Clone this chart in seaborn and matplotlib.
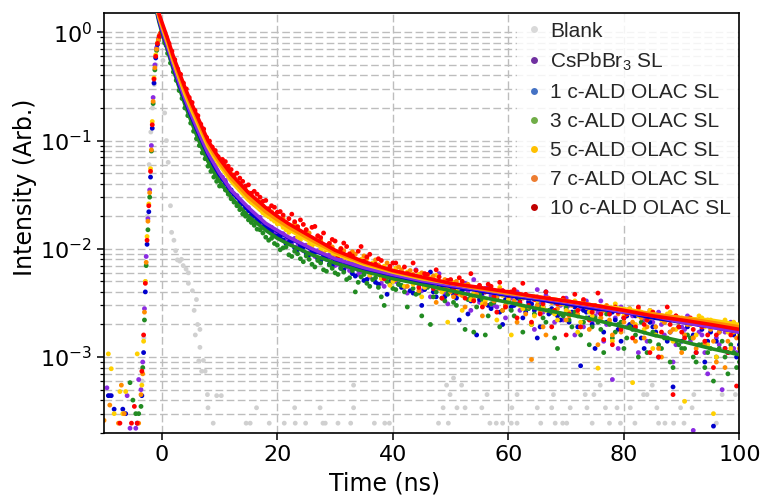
import numpy as np
import pandas as pd
import matplotlib
matplotlib.use("Agg")
import matplotlib.pyplot as plt
import seaborn as sns
from matplotlib.lines import Line2D
from matplotlib.ticker import LogLocator, NullFormatter, MultipleLocator

nan = np.nan

# ---------------- data ----------------
samples = ["Blank", "CsPbBr$_3$ SL", "1 c-ALD OLAC SL", "3 c-ALD OLAC SL",
           "5 c-ALD OLAC SL", "7 c-ALD OLAC SL", "10 c-ALD OLAC SL"]

# TCSPC time bins (ns) of the acquisition grids
time_a = np.round(np.concatenate([np.arange(-10, -3.9, 0.5), np.arange(-3.6, -0.2, 0.3),
                                  np.arange(0, 10.01, 0.5), np.arange(11, 100.1, 1.0),
                                  np.arange(10.5, 99.6, 1.0)]), 2)
time_b = np.round(np.concatenate([np.arange(-9.75, -4.2, 0.5), np.arange(-3.45, -0.1, 0.3),
                                  np.arange(0.25, 9.8, 0.5), np.arange(10.5, 99.6, 1.0),
                                  np.arange(11, 100.1, 1.0)]), 2)

blank_time = [-3.4, -3.1, -2.8, -2.5, -2.2, -1.9, -1.6, -1.3, -1.0, -0.7, -0.4, -0.1, 0.2, 0.5,
              0.8, 1.1, 1.5, 1.7, 2.1, 2.4, 2.7, 3.1, 3.4, 3.7, 4.2, 4.6, 4.6, 5.3, 5.6, 5.8,
              6.0, 6.2, 6.6, 6.6, 6.4, 7.2, 6.9, 7.5, 7.9, 9.5, 10.3, 8.0, 8.9,
              14.6, 15.3, 18.6, 21.2, 23.1, 24.9, 27.9, 28.3, 30.5, 32.7, 36.8, 38.6, 39.4,
              47.9, 49.6, 56.8, 57.9, 59.0, 60.5, 61.5, 65.6, 68.1, 69.4, 70.1, 74.5, 77.5,
              79.4, 81.9, 86.0, 87.1, 88.6, 90.4, 96.0,
              16.4, 23.0, 27.4, 33.2, 48.7, 51.1, 52.5, 55.4, 60.6, 65.0, 67.5, 70.7, 73.6,
              76.8, 78.8, 81.1, 85.7, 89.8, 91.8,
              49.9, 56.3, 61.5, 67.8, 73.3, 74.8, 83.4, 84.0, 92.1, 97.0, 99.3,
              33.2, 49.3, 51.9, 75.9, 84.9, 50.5]
blank_int = [6e-4, 1.5e-3, 5e-3, 0.02, 0.06, 0.12, 0.2, 0.33, 0.5, 0.7, 0.92, 1.0, 0.55, 0.18,
             0.1, 0.063, 0.025, 0.0142, 0.012, 0.0096, 0.0079, 0.0077, 0.008, 0.007, 0.0065, 0.006,
             0.0048, 0.0041, 0.0027, 0.0016, 0.0034, 0.0020, 0.0018, 0.00123, 9.2e-4, 9.3e-4,
             7.4e-4, 7.4e-4, 4.5e-4, 4.4e-4, 4.4e-4, 3.4e-4, 2.45e-4] + \
            [2.45e-4] * 33 + [3.4e-4] * 19 + [4.5e-4] * 11 + [5.5e-4] * 5 + [6.4e-4]

cspbbr3_int = [nan, 5.2e-4, 4.4e-4, nan, nan, nan, nan, nan, 4.4e-4, 2.2e-4, nan, 2.2e-4, 6.2e-4,
               5e-4, 9e-4, 2.8e-3, 8.5e-3, 0.019, 0.035, 0.09, 0.25, 0.5, 0.72, 0.87, 0.97,
               0.99, 0.84, 0.70, 0.58, 0.48, 0.40, 0.33, 0.28, 0.235, 0.20, 0.172, 0.148, 0.128,
               0.112, 0.097, 0.085, 0.074, 0.066, 0.059, 0.053, 0.048,
               0.043, 0.034, 0.031, 0.026, 0.024, 0.020, 0.0195, 0.0165, 0.0158, 0.0140,
               0.0138, 0.0118, 0.0125, 0.0102, 0.0108, 0.0090, 0.0096, 0.0082, 0.0088, 0.0070,
               0.0079, 0.0068, 0.0075, 0.0058, 0.0070, 0.0055, 0.0066, 0.0048, 0.0062, 0.0052,
               0.0060, 0.0044, 0.0056, 0.0064, 0.0041, 0.0052, 0.0047, 0.0059, 0.0038, 0.0049,
               0.0036, 0.0046, 0.0040, 0.0052, 0.0032, 0.0043, 0.0037, 0.0029, 0.0041, 0.0034,
               0.0039, 0.0027, 0.0036, 0.0031, 0.0042, 0.0026, 0.0033, 0.0021, 0.0030, 0.0035,
               0.0025, 0.0031, 0.0019, 0.0028, 0.0024, 0.0033, 0.0020, 0.00062, 0.0012, 0.0023,
               0.0028, 0.0018, 0.0024, 0.0014, 0.0021, 0.0026, 0.0016, 0.0022, 0.0013, 0.0019,
               0.0024, 0.00021, 0.0017, 0.0011, 0.0020, 0.0015, 0.0005, 0.0018, 0.0012, 0.0016,
               0.046, 0.037, 0.032, 0.028, 0.024, 0.021, 0.0185, 0.0168, 0.0152, 0.0138,
               0.0131, 0.0122, 0.0110, 0.0106, 0.0096, 0.0092, 0.0085, 0.0079, 0.0080, 0.0074,
               0.0072, 0.0078, 0.0063, 0.0066, 0.0061, 0.0052, 0.0064, 0.0058, 0.0045, 0.0057,
               0.0050, 0.0058, 0.0039, 0.0053, 0.0047, 0.0055, 0.0036, 0.0049, 0.0043, 0.0031,
               0.0045, 0.0040, 0.0048, 0.0027, 0.0042, 0.0036, 0.0044, 0.0030, 0.0038, 0.0023,
               0.0035, 0.0040, 0.0029, 0.0033, 0.0018, 0.0032, 0.0037, 0.0026, 0.0031, 0.0022,
               0.0030, 0.0016, 0.0028, 0.0033, 0.0021, 0.0026, 0.0014, 0.0027, 0.0023, 0.0029,
               0.0019, 0.0024, 0.0011, 0.0022, 0.0027, 0.0017, 0.0020, 0.0024, 0.0009, 0.0021,
               0.0018, 0.0014, 0.0022, 0.0016, 0.0007, 0.0019, 0.0013, 0.0017, 0.0021, 0.0011]

ald1_int = [nan, 4.4e-4, 4.4e-4, 3.3e-4, nan, nan, 3.3e-4, 3.0e-4, nan, nan, nan, 2.45e-4,
            4.4e-4, 1.1e-3, 4e-3, 0.011, 0.022, 0.046, 0.13, 0.34, 0.58, 0.77, 0.9, 0.98,
            0.94, 0.76, 0.63, 0.52, 0.43, 0.36, 0.30, 0.25, 0.21, 0.18, 0.155, 0.135, 0.116,
            0.101, 0.088, 0.077, 0.068, 0.060, 0.054, 0.049,
            0.044, 0.037, 0.032, 0.027, 0.024, 0.0205, 0.0188, 0.0160, 0.0152, 0.0132,
            0.0130, 0.0112, 0.0118, 0.0098, 0.0104, 0.0088, 0.0093, 0.0077, 0.0084, 0.0070,
            0.0076, 0.0064, 0.0071, 0.0056, 0.0066, 0.0052, 0.0062, 0.0047, 0.0058, 0.0050,
            0.0056, 0.0044, 0.0052, 0.0039, 0.0050, 0.0042, 0.0061, 0.0036, 0.0046, 0.0041,
            0.0038, 0.0022, 0.0043, 0.0033, 0.0016, 0.0039, 0.0030, 0.0036, 0.0026, 0.0034,
            0.0029, 0.0035, 0.0023, 0.0032, 0.0027, 0.0019, 0.0040, 0.0028, 0.0024, 0.0031,
            0.0021, 0.0029, 0.00083, 0.0026, 0.0020, 0.0028, 0.0017, 0.0025, 0.0022, 0.0014,
            0.0024, 0.0019, 0.0026, 0.0012, 0.0021, 0.0017, 0.0023, 0.0014, 0.00053, 0.0019,
            0.0016, 0.0022, 0.0011, 0.0018, 0.0014, 0.00023, 0.0017, 0.0012, 0.0019, 0.0010,
            0.041, 0.035, 0.030, 0.026, 0.0225, 0.0200, 0.0178, 0.0160, 0.0143, 0.0131,
            0.0121, 0.0115, 0.0102, 0.0107, 0.0090, 0.0096, 0.0081, 0.0086, 0.0072, 0.0077,
            0.0066, 0.0070, 0.0059, 0.0064, 0.0051, 0.0060, 0.0049, 0.0055, 0.0038, 0.0052,
            0.0047, 0.0053, 0.0041, 0.0049, 0.0030, 0.0045, 0.0040, 0.0047, 0.0036, 0.0043,
            0.0035, 0.0041, 0.0025, 0.0038, 0.0034, 0.0040, 0.0028, 0.0035, 0.0020, 0.0033,
            0.0030, 0.0034, 0.0026, 0.0031, 0.0015, 0.0029, 0.0025, 0.0032, 0.0022, 0.0028,
            0.0026, 0.0019, 0.0027, 0.0023, 0.0012, 0.0025, 0.0021, 0.0026, 0.0018, 0.0023,
            0.0020, 0.0024, 0.0015, 0.0022, 0.0019, 0.0010, 0.0021, 0.0017, 0.0022, 0.0014,
            0.0019, 0.0016, 0.0020, 0.0009, 0.0017, 0.0014, 0.0019, 0.0011, 0.0016, 0.0013]

ald3_int = [nan, nan, nan, nan, nan, nan, nan, nan, nan, 5.8e-4, 4e-4, 3e-4, 3e-4,
            3.5e-4, 8e-4, 2.2e-3, 7e-3, 0.015, 0.03, 0.08, 0.22, 0.45, 0.68, 0.84, 0.95,
            0.98, 0.80, 0.64, 0.52, 0.43, 0.36, 0.29, 0.245, 0.20, 0.17, 0.145, 0.122, 0.104,
            0.090, 0.077, 0.068, 0.058, 0.052, 0.046, 0.042, 0.038,
            0.035, 0.029, 0.025, 0.021, 0.0185, 0.0165, 0.0150, 0.0128, 0.0125, 0.0108,
            0.0102, 0.0088, 0.0095, 0.0081, 0.0086, 0.0072, 0.0078, 0.0064, 0.0071, 0.0060,
            0.0066, 0.0052, 0.0063, 0.0049, 0.0058, 0.0045, 0.0054, 0.0036, 0.0050, 0.0043,
            0.0047, 0.0040, 0.0051, 0.0038, 0.0024, 0.0044, 0.0036, 0.0048, 0.0033, 0.0041,
            0.0030, 0.0045, 0.0034, 0.0017, 0.0038, 0.0016, 0.0031, 0.0040, 0.0027, 0.0033,
            0.0024, 0.0035, 0.0028, 0.0020, 0.0030, 0.0023, 0.0027, 0.0015, 0.0025, 0.0029,
            0.0019, 0.0024, 0.0021, 0.0013, 0.0023, 0.0018, 0.0025, 0.0015, 0.0020, 0.0012,
            0.0019, 0.0016, 0.0021, 0.0011, 0.0017, 0.0013, 0.0015, 0.0009, 0.0014, 0.0012,
            0.0016, 0.0010, 0.0013, 0.0008, 0.0012, 0.0010, 0.0014, 0.0007, 0.0011, 0.0009,
            0.038, 0.032, 0.027, 0.023, 0.020, 0.0175, 0.0152, 0.0140, 0.0120, 0.0112,
            0.0098, 0.0104, 0.0085, 0.0090, 0.0076, 0.0080, 0.0068, 0.0074, 0.0062, 0.0066,
            0.0058, 0.0061, 0.0054, 0.0040, 0.0055, 0.0048, 0.0052, 0.0044, 0.0030, 0.0047,
            0.0042, 0.0046, 0.0029, 0.0043, 0.0039, 0.0045, 0.0020, 0.0040, 0.0035, 0.0038,
            0.0032, 0.0039, 0.0018, 0.0036, 0.0029, 0.0034, 0.0024, 0.0032, 0.0019, 0.0030,
            0.0027, 0.0031, 0.0017, 0.0028, 0.0025, 0.0029, 0.0021, 0.0026, 0.0012, 0.0024,
            0.0022, 0.0026, 0.0016, 0.0023, 0.0019, 0.0021, 0.0011, 0.0020, 0.0017, 0.0021,
            0.0015, 0.0018, 0.0010, 0.0017, 0.0014, 0.0016, 0.0012, 0.0015, 0.0008, 0.0013,
            0.0012, 0.0015, 0.0009, 0.0013, 0.0011, 0.0006, 0.0012, 0.0010, 0.0013, 0.0008]

ald5_int = [nan, 1.07e-3, 7.8e-4, 3e-4, nan, 4.8e-4, 3e-4, 4.8e-4, nan, nan, nan, 1.07e-3,
            5.5e-4, 1.4e-3, 5e-3, 0.013, 0.026, 0.055, 0.15, 0.38, 0.62, 0.8, 0.93, 1.0,
            0.96, 0.85, 0.72, 0.60, 0.50, 0.42, 0.35, 0.30, 0.255, 0.215, 0.19, 0.165, 0.143,
            0.124, 0.108, 0.096, 0.085, 0.076, 0.068, 0.061,
            0.056, 0.048, 0.041, 0.035, 0.031, 0.027, 0.025, 0.0215, 0.0198, 0.0180,
            0.0172, 0.0150, 0.0158, 0.0128, 0.0138, 0.0110, 0.0120, 0.0098, 0.0105, 0.0085,
            0.0093, 0.0077, 0.0088, 0.0068, 0.0080, 0.0064, 0.0074, 0.0058, 0.0069, 0.0046,
            0.0066, 0.0052, 0.0061, 0.0047, 0.0058, 0.0044, 0.0054, 0.0057, 0.0040, 0.0021,
            0.0049, 0.0038, 0.0046, 0.0034, 0.0044, 0.0031, 0.0041, 0.0036, 0.0044, 0.0029,
            0.0016, 0.0037, 0.0028, 0.0035, 0.0024, 0.0034, 0.0027, 0.0032, 0.0022, 0.0031,
            0.0026, 0.0033, 0.0021, 0.0029, 0.0024, 0.00079, 0.0027, 0.0021, 0.0031, 0.0019,
            0.0026, 0.00058, 0.0024, 0.0018, 0.0027, 0.0016, 0.0022, 0.0025, 0.0014, 0.0021,
            0.00039, 0.0020, 0.0016, 0.0023, 0.0013, 0.0003, 0.0019, 0.0022, 0.0012, 0.0018,
            0.052, 0.044, 0.038, 0.033, 0.029, 0.026, 0.0232, 0.0205, 0.0188, 0.0170,
            0.0158, 0.0142, 0.0148, 0.0121, 0.0128, 0.0105, 0.0114, 0.0092, 0.0099, 0.0083,
            0.0088, 0.0073, 0.0082, 0.0065, 0.0075, 0.0057, 0.0070, 0.0053, 0.0064, 0.0050,
            0.0060, 0.0045, 0.0056, 0.0051, 0.0036, 0.0053, 0.0047, 0.0050, 0.0042, 0.0046,
            0.0041, 0.0027, 0.0044, 0.0039, 0.0042, 0.0033, 0.0040, 0.0022, 0.0037, 0.0034,
            0.0038, 0.0030, 0.0036, 0.0020, 0.0033, 0.0029, 0.0034, 0.0025, 0.0031, 0.0027,
            0.0032, 0.0017, 0.0030, 0.0026, 0.0029, 0.0023, 0.0028, 0.0014, 0.0027, 0.0024,
            0.0028, 0.0020, 0.0026, 0.0022, 0.0012, 0.0024, 0.0021, 0.0026, 0.0018, 0.0023,
            0.0021, 0.0015, 0.0024, 0.0019, 0.0022, 0.0010, 0.0020, 0.0017, 0.0021, 0.0016]

ald7_int = [2.6e-4, nan, 3.6e-4, nan, nan, 2.45e-4, 5.5e-4, 3e-4, nan, nan, nan, nan, 2.45e-4,
            4.5e-4, 7e-4, 2.6e-3, 7.5e-3, 0.018, 0.033, 0.082, 0.23, 0.47, 0.7, 0.86, 0.96,
            1.0, 0.88, 0.80, 0.66, 0.55, 0.47, 0.39, 0.33, 0.28, 0.245, 0.21, 0.18, 0.16,
            0.138, 0.121, 0.105, 0.094, 0.084, 0.077, 0.069, 0.064,
            0.058, 0.049, 0.042, 0.037, 0.033, 0.029, 0.027, 0.0235, 0.022, 0.0195,
            0.0190, 0.0162, 0.0172, 0.0138, 0.0150, 0.0118, 0.0130, 0.0104, 0.0112, 0.0090,
            0.0101, 0.0083, 0.0094, 0.0072, 0.0086, 0.0068, 0.0079, 0.0061, 0.0074, 0.0057,
            0.0068, 0.0055, 0.0063, 0.0049, 0.0060, 0.0046, 0.0056, 0.0043, 0.0052, 0.0040,
            0.0050, 0.0037, 0.0047, 0.0034, 0.0045, 0.0031, 0.0042, 0.0036, 0.0027, 0.0040,
            0.0033, 0.0038, 0.0025, 0.00095, 0.0030, 0.0019, 0.0034, 0.0027, 0.0031, 0.0022,
            0.0030, 0.0025, 0.0033, 0.0018, 0.0028, 0.0023, 0.0030, 0.0016, 0.0025, 0.0021,
            0.0027, 0.0014, 0.0023, 0.0019, 0.0026, 0.0012, 0.0021, 0.0017, 0.0024, 0.0011,
            0.0020, 0.0015, 0.0022, 0.0013, 0.0018, 0.0009, 0.0019, 0.0014, 0.0017, 0.0012,
            0.061, 0.053, 0.046, 0.040, 0.035, 0.031, 0.028, 0.025, 0.0228, 0.0205,
            0.0180, 0.0175, 0.0155, 0.0160, 0.0132, 0.0140, 0.0112, 0.0120, 0.0098, 0.0104,
            0.0086, 0.0096, 0.0078, 0.0089, 0.0066, 0.0081, 0.0063, 0.0071, 0.0055, 0.0066,
            0.0052, 0.0064, 0.0045, 0.0058, 0.0041, 0.0054, 0.0048, 0.0032, 0.0049, 0.0044,
            0.0036, 0.0046, 0.0029, 0.0043, 0.0038, 0.0024, 0.0040, 0.0033, 0.0042, 0.0030,
            0.0037, 0.0021, 0.0035, 0.0029, 0.0036, 0.0026, 0.0016, 0.0032, 0.0028, 0.0034,
            0.0024, 0.0031, 0.0019, 0.0029, 0.0026, 0.0013, 0.0027, 0.0022, 0.0028, 0.0017,
            0.0025, 0.0021, 0.0028, 0.0015, 0.0023, 0.0019, 0.0010, 0.0022, 0.0018, 0.0023,
            0.0016, 0.0021, 0.0012, 0.0019, 0.0022, 0.0014, 0.0017, 0.0008, 0.0018, 0.0015]

ald10_int = [nan, nan, nan, nan, nan, 2.45e-4, nan, nan, nan, 2.45e-4, 3.5e-4, 2.45e-4,
             7.4e-4, 1.6e-3, 4.8e-3, 0.012, 0.025, 0.052, 0.14, 0.37, 0.6, 0.79, 0.92, 0.99,
             0.97, 0.91, 0.79, 0.67, 0.56, 0.46, 0.41, 0.34, 0.30, 0.25, 0.225, 0.19, 0.17,
             0.142, 0.128, 0.107, 0.099, 0.087, 0.081, 0.071,
             0.067, 0.058, 0.048, 0.045, 0.038, 0.0326, 0.032, 0.0275, 0.0235, 0.0242,
             0.0221, 0.0168, 0.0209, 0.0160, 0.0168, 0.0122, 0.0161, 0.0127, 0.0107, 0.0122,
             0.0085, 0.0113, 0.0090, 0.0070, 0.0105, 0.0084, 0.0068, 0.0081, 0.0053, 0.0069,
             0.0074, 0.0052, 0.0059, 0.0074, 0.0044, 0.0059, 0.0049, 0.0064, 0.0035, 0.0051,
             0.0042, 0.0054, 0.0035, 0.0059, 0.0042, 0.0029, 0.0047, 0.0036, 0.0049, 0.0029,
             0.0040, 0.0023, 0.0048, 0.0030, 0.0034, 0.0025, 0.0040, 0.0019, 0.0031, 0.0035,
             0.0025, 0.0038, 0.0019, 0.0029, 0.0026, 0.0039, 0.00145, 0.0025, 0.0029, 0.0018,
             0.0025, 0.0015, 0.0029, 0.0020, 0.0011, 0.0024, 0.0017, 0.0029, 0.00045, 0.0019,
             0.0015, 0.0023, 0.0011, 0.0019, 0.0016, 0.0008, 0.0020, 0.0012, 0.0016, 0.00054,
             0.064, 0.054, 0.050, 0.042, 0.039, 0.034, 0.030, 0.028, 0.025, 0.0218,
             0.0205, 0.0190, 0.0178, 0.0185, 0.0150, 0.0158, 0.0132, 0.0140, 0.0112, 0.0118,
             0.0100, 0.0105, 0.0086, 0.0095, 0.0077, 0.0089, 0.0072, 0.0078, 0.0063, 0.0074,
             0.0060, 0.0068, 0.0054, 0.0063, 0.0050, 0.0058, 0.0043, 0.0055, 0.0046, 0.0052,
             0.0039, 0.0050, 0.0044, 0.0033, 0.0046, 0.0040, 0.0045, 0.0026, 0.0041, 0.0037,
             0.0042, 0.0032, 0.0038, 0.0021, 0.0036, 0.0031, 0.0035, 0.0027, 0.0033, 0.0016,
             0.0031, 0.0027, 0.0034, 0.0022, 0.0030, 0.0025, 0.0029, 0.0013, 0.0026, 0.0023,
             0.0027, 0.0019, 0.0025, 0.0022, 0.0026, 0.0010, 0.0023, 0.0020, 0.0024, 0.0017,
             0.0021, 0.0018, 0.0022, 0.0014, 0.0020, 0.0016, 0.0019, 0.0011, 0.0018, 0.0015]

# fitted decay curves
fit_time = [-1, -0.5, 0, 1, 2, 3, 4, 5, 6, 7, 8, 9, 10, 12, 15, 18, 20, 22, 26, 30, 35, 40,
            45, 50, 55, 60, 65, 70, 75, 80, 85, 90, 95, 100]
fit_ald3 = [1.65, 1.25, 1.0, 0.68, 0.45, 0.31, 0.215, 0.155, 0.113, 0.084, 0.064, 0.051, 0.042,
            0.030, 0.020, 0.0148, 0.0125, 0.0110, 0.0088, 0.0074, 0.0062, 0.0053, 0.0047, 0.0041,
            0.0036, 0.0032, 0.0028, 0.0025, 0.0022, 0.0019, 0.0016, 0.0014, 0.0012, 0.00105]
fit_ald1 = [1.7, 1.3, 1.05, 0.72, 0.48, 0.33, 0.235, 0.172, 0.128, 0.097, 0.074, 0.059, 0.048,
            0.034, 0.023, 0.0168, 0.0145, 0.0126, 0.0098, 0.0080, 0.0066, 0.0057, 0.0050, 0.0045,
            0.0041, 0.0037, 0.0034, 0.0031, 0.0028, 0.0026, 0.0023, 0.0021, 0.0019, 0.0017]
fit_cspbbr3 = [1.75, 1.35, 1.08, 0.74, 0.50, 0.345, 0.245, 0.18, 0.134, 0.101, 0.077, 0.062, 0.050,
               0.035, 0.024, 0.0172, 0.0148, 0.0128, 0.0100, 0.0081, 0.0067, 0.0058, 0.0051, 0.0046,
               0.0042, 0.0038, 0.0035, 0.0032, 0.0029, 0.0026, 0.0024, 0.0021, 0.0019, 0.0017]
fit_ald5 = [1.8, 1.4, 1.15, 0.80, 0.54, 0.38, 0.27, 0.20, 0.152, 0.115, 0.088, 0.071, 0.059,
            0.042, 0.028, 0.0205, 0.0175, 0.0150, 0.0114, 0.0090, 0.0072, 0.0061, 0.0053, 0.0048,
            0.0043, 0.0039, 0.0036, 0.0033, 0.0030, 0.0028, 0.0025, 0.0023, 0.0022, 0.0020]
fit_ald7 = [1.85, 1.45, 1.2, 0.84, 0.57, 0.40, 0.29, 0.215, 0.163, 0.123, 0.094, 0.076, 0.063,
            0.045, 0.030, 0.022, 0.0185, 0.0158, 0.0120, 0.0093, 0.0074, 0.0062, 0.0054, 0.0048,
            0.0043, 0.0039, 0.0036, 0.0033, 0.0030, 0.0027, 0.0025, 0.0023, 0.0021, 0.0019]
fit_ald10 = [1.9, 1.5, 1.25, 0.88, 0.60, 0.43, 0.31, 0.23, 0.175, 0.132, 0.10, 0.082, 0.068,
             0.049, 0.033, 0.024, 0.020, 0.017, 0.0128, 0.0097, 0.0076, 0.0063, 0.0055, 0.0048,
             0.0044, 0.0040, 0.0036, 0.0033, 0.0030, 0.0027, 0.0024, 0.0022, 0.0020, 0.0018]

# ---------------- styles ----------------
point_colors = {samples[0]: "#d0d0d0", samples[1]: "#8a2be2", samples[2]: "#0000cd",
                samples[3]: "#228b22", samples[4]: "#ffd000", samples[5]: "#ff8c00",
                samples[6]: "#ff0000"}
line_colors = {samples[1]: "#8a2be2", samples[2]: "#0000cd", samples[3]: "#228b22",
               samples[4]: "#ffd000", samples[5]: "#ff8c00", samples[6]: "#ff0000"}
legend_colors = ["#d9d9d9", "#7030a0", "#4472c4", "#70ad47", "#ffc000", "#ed7d31", "#c00000"]

# ---------------- frames ----------------
frames = [pd.DataFrame({"time": blank_time, "intensity": blank_int, "sample": samples[0]})]
for name, t, v in [(samples[1], time_a, cspbbr3_int), (samples[2], time_b, ald1_int),
                   (samples[3], time_a, ald3_int), (samples[4], time_b, ald5_int),
                   (samples[5], time_a, ald7_int), (samples[6], time_b, ald10_int)]:
    frames.append(pd.DataFrame({"time": t, "intensity": v, "sample": name}))
points = pd.concat(frames, ignore_index=True).dropna()

fit_order = [samples[3], samples[2], samples[1], samples[4], samples[5], samples[6]]
fit_vals = {samples[3]: fit_ald3, samples[2]: fit_ald1, samples[1]: fit_cspbbr3,
            samples[4]: fit_ald5, samples[5]: fit_ald7, samples[6]: fit_ald10}
fits = pd.concat([pd.DataFrame({"time": fit_time, "intensity": fit_vals[n], "sample": n})
                  for n in fit_order], ignore_index=True)

# ---------------- plot ----------------
sns.set_style("ticks")
plt.rcParams["font.family"] = ["DejaVu Sans"]
plt.rcParams["mathtext.default"] = "regular"

fig = plt.figure(figsize=(7.61, 4.96), dpi=100)
ax = fig.add_axes([0.1367, 0.1276, 0.8350, 0.8456])
ax.set_yscale("log")

sns.scatterplot(data=points, x="time", y="intensity", hue="sample", palette=point_colors,
                s=12, linewidth=0, legend=False, ax=ax, zorder=2)
sns.lineplot(data=fits, x="time", y="intensity", hue="sample", hue_order=fit_order,
             palette=line_colors, estimator=None, errorbar=None, lw=2.6, legend=False,
             ax=ax, zorder=3)

ax.set_xlim(-10, 100)
ax.set_ylim(2.0e-4, 1.5)
ax.xaxis.set_major_locator(MultipleLocator(20))
ax.yaxis.set_major_locator(LogLocator(base=10, numticks=10))
ax.yaxis.set_minor_locator(LogLocator(base=10, subs=np.arange(2, 10), numticks=20))
ax.yaxis.set_minor_formatter(NullFormatter())

dash = (0, (5.5, 2.5))
ax.set_axisbelow(True)
ax.grid(True, which="major", axis="both", ls=dash, color="#bdbdbd", lw=1.0)
ax.grid(True, which="minor", axis="y", ls=dash, color="#bdbdbd", lw=1.0)

for sp in ax.spines.values():
    sp.set_color("black")
    sp.set_linewidth(1.2)
ax.tick_params(axis="both", which="major", labelsize=16, length=5, width=1.1,
               colors="black", direction="out")
ax.tick_params(axis="y", which="minor", length=3, width=0.9, colors="black")

ax.set_xlabel("Time (ns)", fontsize=17, color="black")
ax.set_ylabel("Intensity (Arb.)", fontsize=17, color="black")
ax.xaxis.set_label_coords(0.442, -0.092)
ax.yaxis.set_label_coords(-0.105, 0.586)

handles = [Line2D([0], [0], marker="o", ls="", markersize=5, markeredgewidth=0,
                  color=c) for c in legend_colors]
leg = ax.legend(handles, samples, loc="upper right", frameon=True, framealpha=0.85,
                edgecolor="none", prop={"family": "Liberation Sans", "size": 15},
                handletextpad=0.3, handlelength=1.0, labelspacing=0.48,
                borderpad=0.3, borderaxespad=0.1)
leg.set_zorder(5)

fig.savefig("out.png", dpi=100)
